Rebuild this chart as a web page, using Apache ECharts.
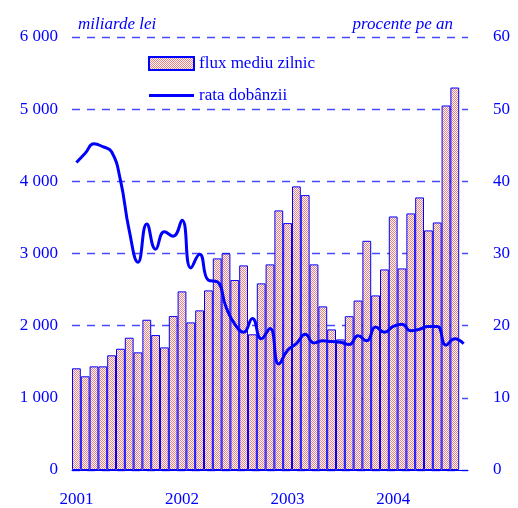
<!DOCTYPE html>
<html>
<head>
<meta charset="utf-8">
<script src="https://cdn.jsdelivr.net/npm/echarts@6/dist/echarts.min.js"></script>
<style>
  html, body { margin: 0; padding: 0; background: #fff; }
  #chart { width: 518px; height: 508px; }
</style>
</head>
<body>
<div id="chart"></div>
<script>
// luni: ian 2001 - sep 2004
var years = ['2001', '2002', '2003', '2004'];
var months = [];
years.forEach(function (y) {
    for (var m = 1; m <= 12; m++) months.push(y + '-' + (m < 10 ? '0' + m : m));
});
months = months.slice(0, 45);

// flux mediu zilnic (miliarde lei), ian 2001 - aug 2004
var flux = [1409, 1298, 1436, 1436, 1589, 1680, 1833, 1630, 2082, 1870, 1699, 2133,
    2475, 2045, 2212, 2489, 2932, 3001, 2632, 2835, 1880, 2586, 2849, 3597,
    3421, 3930, 3809, 2849, 2267, 1948, 1810, 2131, 2348, 3176, 2419, 2779,
    3513, 2793, 3555, 3777, 3320, 3430, 5051, 5300];

// rata dobanzii (procente pe an), ian 2001 - sep 2004
var rata = [42.6, 43.9, 45.2, 44.8, 44.1, 40.2, 33.2, 28.8, 34.1, 30.6, 33.0, 32.4,
    34.6, 28.0, 29.9, 26.3, 26.1, 22.6, 20.2, 19.1, 21.0, 18.2, 19.6, 14.7,
    16.6, 17.5, 18.8, 17.6, 17.9, 17.8, 17.7, 17.4, 18.6, 17.9, 19.8, 19.1,
    19.9, 20.2, 19.3, 19.5, 19.9, 19.9, 17.3, 18.2, 17.5];

var names = ['flux mediu zilnic', 'rata dobânzii'];
var blue = '#0000ff';
var gridBlue = '#4848ff';
var font = '"Liberation Serif", "Times New Roman", serif';

// hasura roz pe alb
var pat = document.createElement('canvas');
pat.width = 2;
pat.height = 2;
var pctx = pat.getContext('2d');
pctx.fillStyle = '#ffffff';
pctx.fillRect(0, 0, 2, 2);
pctx.fillStyle = '#f08080';
pctx.fillRect(0, 0, 1, 1);
pctx.fillRect(1, 1, 1, 1);

var chart = echarts.init(document.getElementById('chart'));
var option = {
    animation: false,
    textStyle: { fontFamily: font, color: blue },
    grid: { left: 72, right: 50, top: 37, bottom: 38 },
    legend: {
        orient: 'vertical',
        left: 148,
        top: 55,
        padding: 0,
        itemWidth: 45,
        itemHeight: 13,
        itemGap: 15,
        symbolKeepAspect: true,
        textStyle: { fontFamily: font, fontSize: 17, color: blue },
        data: [
            { name: names[0], icon: 'rect' },
            { name: names[1], icon: 'path://M0,0 H45 V3 H0 Z', itemStyle: { color: blue } }
        ]
    },
    xAxis: {
        type: 'category',
        data: months,
        boundaryGap: true,
        axisLine: { lineStyle: { color: blue, width: 1 } },
        axisTick: {
            length: 7,
            lineStyle: { color: blue },
            interval: function (i) { return i % 12 === 0; }
        },
        axisLabel: {
            interval: function (i) { return i % 12 === 0; },
            formatter: function (v) { return v.slice(0, 4); },
            margin: 21,
            fontSize: 17,
            color: blue,
            fontFamily: font
        }
    },
    yAxis: [{
        type: 'value',
        min: 0,
        max: 6000,
        interval: 1000,
        name: 'miliarde lei',
        nameLocation: 'end',
        nameGap: 12,
        nameTextStyle: {
            align: 'left', verticalAlign: 'middle', padding: [0, 0, 0, 6],
            fontStyle: 'italic', fontSize: 17, color: blue, fontFamily: font
        },
        axisLine: { show: false },
        axisTick: { show: false },
        axisLabel: {
            margin: 14,
            fontSize: 17,
            color: blue,
            fontFamily: font,
            formatter: function (v) { return v >= 1000 ? Math.floor(v / 1000) + ' 000' : String(v); }
        },
        splitLine: {
            show: true,
            lineStyle: { color: gridBlue, type: [8, 7], dashOffset: 0, width: 1.3, opacity: 1 }
        }
    }, {
        type: 'value',
        min: 0,
        max: 60,
        interval: 10,
        name: 'procente pe an',
        nameLocation: 'end',
        nameGap: 12,
        nameTextStyle: {
            align: 'right', verticalAlign: 'middle', padding: [0, 15, 0, 0],
            fontStyle: 'italic', fontSize: 17, color: blue, fontFamily: font
        },
        axisLine: { show: false },
        axisTick: { show: false },
        axisLabel: { margin: 25, fontSize: 17, color: blue, fontFamily: font },
        splitLine: { show: false }
    }],
    series: [{
        name: names[0],
        type: 'bar',
        yAxisIndex: 0,
        data: flux,
        barCategoryGap: '0%',
        itemStyle: {
            color: { image: pat, repeat: 'repeat' },
            borderColor: blue,
            borderWidth: 1
        }
    }, {
        name: names[1],
        type: 'line',
        yAxisIndex: 1,
        data: rata,
        smooth: 0.5,
        symbol: 'none',
        lineStyle: { color: blue, width: 3 },
        itemStyle: { color: blue }
    }]
};
chart.setOption(option);
</script>
</body>
</html>
